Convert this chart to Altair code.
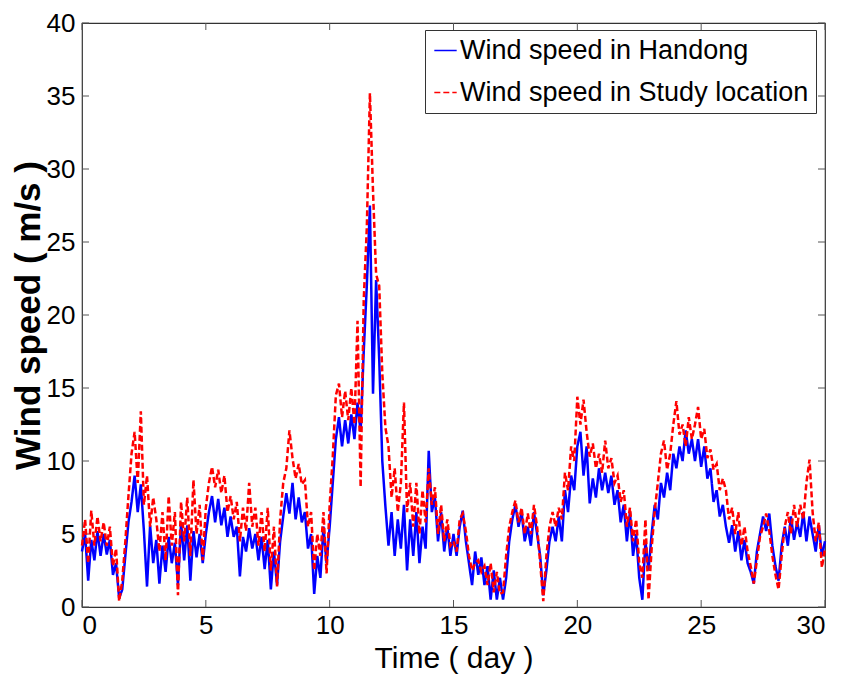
import altair as alt
import pandas as pd

# 8 samples per day (every 3 hours), day 0 .. 30
handong = [
    3.8, 5.0, 1.8, 4.6, 3.2, 5.2, 3.5, 5.0,
    3.6, 4.6, 2.2, 3.0, 0.6, 1.2, 3.5, 5.8,
    7.2, 9.0, 6.5, 8.4, 5.2, 1.4, 5.6, 3.0,
    4.6, 1.6, 4.2, 2.4, 4.8, 3.0, 4.4, 1.5,
    5.8, 3.2, 5.6, 1.8, 5.2, 3.4, 5.0, 3.0,
    5.0, 6.5, 7.6, 5.8, 7.4, 5.6, 6.8, 4.8,
    6.2, 4.8, 5.5, 2.1, 4.8, 3.8, 5.4, 4.0,
    5.0, 3.2, 4.8, 2.6, 4.6, 1.2, 3.8, 1.5,
    4.5, 6.2, 7.8, 6.4, 8.5, 6.0, 7.5, 5.8,
    6.5, 4.0, 5.0, 0.9, 3.5, 2.0, 5.5, 3.0,
    5.5, 8.5, 11.5, 13.0, 11.0, 12.8, 11.2, 13.2,
    11.5, 14.0, 12.0, 17.5, 22.0, 27.5, 14.6, 22.4,
    17.0, 10.0, 6.9, 4.2, 6.5, 3.5, 6.0, 4.0,
    7.0, 2.5, 6.0, 3.5, 6.5, 3.0, 5.5, 4.0,
    10.7, 6.5, 7.5, 4.5, 6.5, 3.8, 5.5, 3.5,
    5.0, 3.5, 5.5, 6.6, 4.5, 3.0, 1.5, 3.8,
    2.2, 3.4, 1.5, 2.8, 0.5, 2.5, 0.5, 2.0,
    0.5, 2.0, 4.5, 6.0, 7.0, 5.5, 6.5, 4.5,
    5.5, 4.2, 6.5, 5.0, 3.5, 0.8, 2.5, 4.5,
    5.5, 4.5, 6.2, 4.5, 8.0, 6.5, 9.0, 8.0,
    11.0, 12.0, 9.0, 11.0, 7.1, 8.8, 7.5, 9.5,
    8.0, 9.2, 7.8, 9.0, 7.0, 8.0, 5.8, 7.0,
    4.5, 6.5, 3.5, 5.0, 2.0, 0.5, 4.5, 2.5,
    5.0, 7.0, 6.0, 8.5, 7.5, 9.2, 8.0, 10.5,
    9.5, 11.0, 10.0, 12.1, 10.5, 11.5, 10.0, 11.5,
    9.6, 11.0, 8.8, 9.5, 7.2, 8.0, 6.2, 7.0,
    5.5, 4.4, 5.6, 3.8, 5.2, 3.2, 4.6, 3.0,
    2.4, 1.6, 3.8, 5.0, 6.2, 5.2, 6.4, 4.2,
    2.8, 1.8, 4.2, 5.5, 4.2, 6.2, 4.6, 5.8,
    4.8, 6.5, 4.5, 6.2, 5.0, 3.8, 5.6, 3.5,
    4.5,
]
study = [
    4.2, 6.0, 3.0, 6.6, 4.2, 6.2, 4.5, 5.8,
    4.2, 5.5, 2.8, 4.0, 0.4, 1.8, 4.5, 7.6,
    10.5, 12.0, 8.5, 13.4, 7.0, 9.0, 5.5, 7.5,
    6.0, 3.8, 6.5, 3.2, 7.6, 4.2, 6.5, 0.8,
    7.2, 4.5, 7.5, 3.5, 8.7, 5.0, 7.0, 3.2,
    6.8, 8.5, 9.6, 8.2, 9.4, 7.8, 9.0, 6.5,
    7.6, 6.0, 7.2, 4.5, 6.8, 5.2, 8.5, 5.5,
    6.8, 4.2, 6.5, 3.8, 6.8, 2.5, 5.5, 1.4,
    6.0, 8.5, 9.5, 12.1, 10.2, 8.8, 9.8, 8.4,
    8.7, 5.5, 6.5, 2.5, 5.0, 3.5, 6.5, 2.3,
    7.0, 10.3, 14.5, 15.3, 13.0, 14.8, 12.8, 15.0,
    12.5, 19.6, 8.2, 21.0, 26.0, 35.2, 28.5, 22.8,
    22.0, 16.0, 12.3, 11.0, 7.5, 9.5, 6.5, 8.5,
    14.0, 6.5, 8.5, 5.5, 8.5, 5.0, 8.0, 5.8,
    9.5, 7.0, 8.2, 5.0, 7.0, 4.5, 6.0, 4.2,
    4.5, 3.8, 6.0, 6.4, 5.2, 3.5, 2.5, 3.0,
    3.2, 2.4, 2.8, 1.5, 3.0, 1.0, 2.4, 0.9,
    1.0, 3.5, 5.5, 6.5, 7.3, 5.8, 6.8, 5.0,
    6.4, 5.0, 7.0, 5.5, 3.0, 0.4, 3.5, 5.5,
    6.5, 5.5, 6.8, 6.0, 9.2, 8.0, 11.0, 10.0,
    14.4, 12.5, 14.2, 12.0, 10.3, 11.2, 9.5, 10.5,
    9.2, 11.4, 9.5, 10.2, 8.5, 9.0, 7.2, 8.0,
    5.5, 6.8, 4.5, 6.0, 3.0, 2.0, 6.0, 0.5,
    4.0, 6.6, 8.5, 10.5, 11.4, 9.4, 10.5, 12.5,
    14.1, 11.8, 12.5, 11.0, 13.0, 11.5, 12.5, 13.7,
    11.5, 12.2, 10.2, 10.8, 9.4, 9.8, 8.0, 8.8,
    8.0, 6.0, 6.8, 5.0, 6.5, 4.2, 5.5, 3.8,
    2.8, 1.6, 3.2, 4.8, 5.5, 6.4, 5.2, 3.5,
    2.2, 1.2, 3.5, 5.5, 6.5, 5.0, 7.0, 5.5,
    7.0, 6.0, 8.5, 10.1, 6.5, 4.5, 5.8, 2.7,
    4.0,
]
samples_per_day = 8
series_names = ["Wind speed in Handong", "Wind speed in Study location"]
x_ticks = [0, 5, 10, 15, 20, 25, 30]
y_ticks = [0, 5, 10, 15, 20, 25, 30, 35, 40]

W, H = 743, 584
FONT = "Liberation Sans, Arial, sans-serif"

rows = []
for i, v in enumerate(handong):
    rows.append({"day": i / samples_per_day, "speed": v, "series": series_names[0], "order": 0})
for i, v in enumerate(study):
    rows.append({"day": i / samples_per_day, "speed": v, "series": series_names[1], "order": 1})
df = pd.DataFrame(rows)

xs = alt.Scale(domain=[0, 30], nice=False, zero=False)
ys = alt.Scale(domain=[0, 40], nice=False)

legend_cfg = dict(
    orient="none", legendX=343, legendY=7, title=None,
    labelFont=FONT, labelFontSize=27, labelColor="black",
    symbolType="stroke", symbolSize=500, symbolStrokeWidth=1.5,
    strokeColor="#333333", fillColor="white", padding=7, rowPadding=14,
    labelOffset=1, labelLimit=600,
)

lines = alt.Chart(df).mark_line(strokeWidth=2.5, interpolate="linear").encode(
    x=alt.X("day:Q", scale=xs,
            axis=alt.Axis(values=x_ticks, title="Time ( day )", grid=False, domain=False,
                          ticks=False, labelFont=FONT, labelFontSize=26,
                          labelColor="black", labelPadding=5,
                          titleFont=FONT, titleFontSize=30,
                          titleFontWeight="normal", titleColor="black", titlePadding=5)),
    y=alt.Y("speed:Q", scale=ys,
            axis=alt.Axis(values=y_ticks, title="Wind speed ( m/s )", grid=False, domain=False,
                          ticks=False, labelFont=FONT, labelFontSize=26,
                          labelColor="black", labelPadding=7,
                          titleFont=FONT, titleFontSize=35,
                          titleFontWeight="bold", titleColor="black", titlePadding=0)),
    color=alt.Color("series:N", scale=alt.Scale(domain=series_names, range=["#0000ff", "#ff0000"]),
                    legend=alt.Legend(**legend_cfg)),
    strokeDash=alt.StrokeDash("series:N", scale=alt.Scale(domain=series_names, range=[[1, 0], [6, 3]]),
                              legend=alt.Legend(**legend_cfg)),
    detail="series:N",
    order=alt.Order("order:Q"),
)

xt = pd.DataFrame({"v": x_ticks})
yt = pd.DataFrame({"v": y_ticks})
tick_color = "#555555"
xb = alt.Chart(xt).mark_rule(color=tick_color, strokeWidth=1).encode(
    x=alt.X("v:Q", scale=xs), y=alt.value(H), y2=alt.value(H - 7))
xtop = alt.Chart(xt).mark_rule(color=tick_color, strokeWidth=1).encode(
    x=alt.X("v:Q", scale=xs), y=alt.value(0), y2=alt.value(7))
yl = alt.Chart(yt).mark_rule(color=tick_color, strokeWidth=1).encode(
    y=alt.Y("v:Q", scale=ys), x=alt.value(0), x2=alt.value(7))
yr = alt.Chart(yt).mark_rule(color=tick_color, strokeWidth=1).encode(
    y=alt.Y("v:Q", scale=ys), x=alt.value(W), x2=alt.value(W - 7))

chart = alt.layer(xb, xtop, yl, yr, lines).properties(
    width=W, height=H,
    autosize=alt.AutoSizeParams(type="none"),
    padding={"left": 82, "top": 23, "right": 18, "bottom": 81},
    background="white",
).configure_view(stroke="#333333", strokeWidth=1.2)

chart.save("out.html", embed_options={"renderer": "svg", "actions": False})
